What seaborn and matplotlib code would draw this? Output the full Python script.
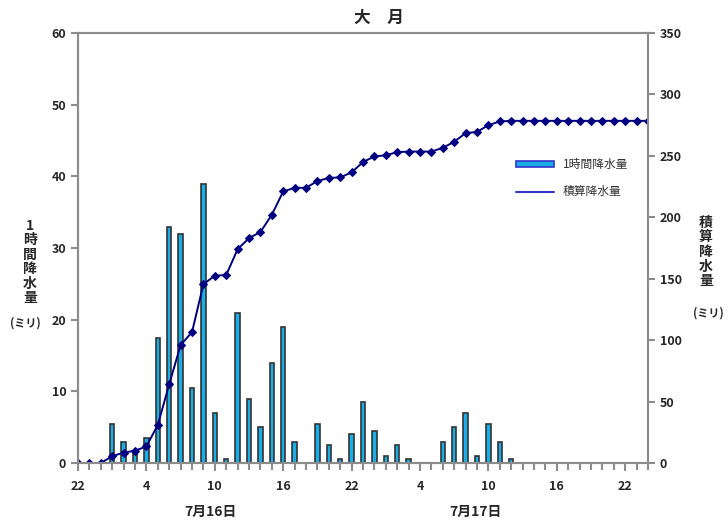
import matplotlib
matplotlib.use("Agg")
import matplotlib.pyplot as plt
import seaborn as sns
import pandas as pd
import numpy as np
from matplotlib.patches import Patch
from matplotlib.lines import Line2D

sns.set_theme(style="white")
plt.rcParams['font.family'] = ['Noto Sans CJK JP', 'DejaVu Sans']

# hour index 0 = 7/15 22:00 ... 50 = 7/17 24:00
hours = list(range(51))
hourly_rain = [0, 0, 0, 5.5, 3.0, 1.5, 3.5, 17.5, 33.0, 32.0,
               10.5, 39.0, 7.0, 0.5, 21.0, 9.0, 5.0, 14.0, 19.0, 3.0,
               0, 5.5, 2.5, 0.5, 4.0, 8.5, 4.5, 1.0, 2.5, 0.5,
               0, 0, 3.0, 5.0, 7.0, 1.0, 5.5, 3.0, 0.5, 0,
               0, 0, 0, 0, 0, 0, 0, 0, 0, 0, 0]
cumulative_rain = [0, 0, 0, 5.5, 8.5, 10.0, 13.5, 31.0, 64.0, 96.0,
                   106.5, 145.5, 152.5, 153.0, 174.0, 183.0, 188.0, 202.0, 221.0, 224.0,
                   224.0, 229.5, 232.0, 232.5, 236.5, 245.0, 249.5, 250.5, 253.0, 253.5,
                   253.5, 253.5, 256.5, 261.5, 268.5, 269.5, 275.0, 278.0, 278.5, 278.5,
                   278.5, 278.5, 278.5, 278.5, 278.5, 278.5, 278.5, 278.5, 278.5, 278.5, 278.5]
tick_positions = [0, 6, 12, 18, 24, 30, 36, 42, 48]
tick_labels = ["22", "4", "10", "16", "22", "4", "10", "16", "22"]
date_labels = ["7月16日", "7月17日"]
legend_labels = ["1時間降水量", "積算降水量"]

df = pd.DataFrame({"hour": hours, "rain": hourly_rain, "cum": cumulative_rain})

fig = plt.figure(figsize=(7.28, 5.25), dpi=100)
ax = fig.add_axes([78/728, 1-463/525, 570/728, 430/525])
ax2 = ax.twinx()

bar_color = "#1AAEE6"
sns.barplot(data=df, x="hour", y="rain", ax=ax, native_scale=True, width=0.38,
            color=bar_color, edgecolor="#333333", linewidth=1.2, saturation=1)
sns.lineplot(data=df, x="hour", y="cum", ax=ax2, color="#000080", marker="D",
             markersize=4, linewidth=1.4, markeredgecolor="#000080")

ax.set_xlim(0, 50)
ax.set_ylim(0, 60)
ax2.set_ylim(0, 350)
ax.set_yticks(range(0, 61, 10))
ax2.set_yticks(range(0, 351, 50))
ax.set_xticks(tick_positions)
ax.set_xticklabels(tick_labels)
ax.set_xticks(hours, minor=True)
ax.set_xlabel("")
ax.set_ylabel("")
ax2.set_ylabel("")

axis_gray = "#8c8c8c"
for a in (ax, ax2):
    for s in a.spines.values():
        s.set_color(axis_gray)
        s.set_linewidth(1.5)
ax.tick_params(axis="both", which="both", direction="out", color=axis_gray,
               length=5, width=1.5, labelsize=9, bottom=True, left=True)
ax.tick_params(axis="x", which="major", length=6, pad=6)
ax.tick_params(axis="x", which="minor", length=5, width=1.5, bottom=True)
ax2.tick_params(axis="y", direction="out", color=axis_gray, length=5, width=1.5,
                labelsize=9, right=True)
for lab in ax.get_xticklabels() + ax.get_yticklabels() + ax2.get_yticklabels():
    lab.set_fontweight("bold")

fig.text(0.52, 0.965, "大　月", ha="center", va="center", fontsize=12, fontweight="bold")

fig.text(30/728, 1-262/525, "1\n時\n間\n降\n水\n量", ha="center", va="center",
         fontsize=10, fontweight="bold", linespacing=1.05)
fig.text(25/728, 1-323/525, "(ミリ)", ha="center", va="center", fontsize=8, fontweight="bold")
fig.text(706/728, 1-252/525, "積\n算\n降\n水\n量", ha="center", va="center",
         fontsize=10, fontweight="bold", linespacing=1.05)
fig.text(708/728, 1-313/525, "(ミリ)", ha="center", va="center", fontsize=8, fontweight="bold")

fig.text(210/728, 1-512/525, date_labels[0], ha="center", va="center", fontsize=10, fontweight="bold")
fig.text(475/728, 1-512/525, date_labels[1], ha="center", va="center", fontsize=10, fontweight="bold")

handles = [Patch(facecolor=bar_color, edgecolor="#3333cc", linewidth=1.2),
           Line2D([0], [0], color="#3333cc", linewidth=1.5)]
ax2.legend(handles, legend_labels, loc="upper left", bbox_to_anchor=(0.76, 0.72),
           frameon=False, fontsize=8.5, handlelength=3.2, handleheight=0.5,
           labelspacing=1.2, borderaxespad=0, labelcolor="#333333")

fig.savefig("out.png", dpi=100)
